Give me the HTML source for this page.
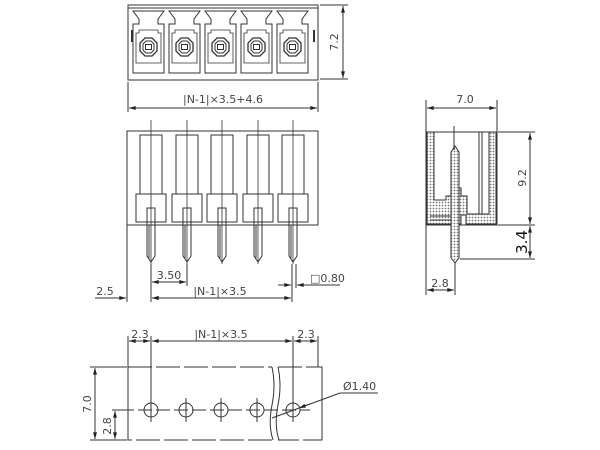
<!DOCTYPE html>
<html><head><meta charset="utf-8"><style>
html,body{margin:0;padding:0;background:#fff;width:600px;height:450px;overflow:hidden}
svg{display:block}
text{font-family:"DejaVu Sans","Liberation Sans",sans-serif;fill:#444;font-size:11px}
</style></head><body>
<svg width="600" height="450" viewBox="0 0 600 450" xmlns="http://www.w3.org/2000/svg">
<defs>
<marker id="a" viewBox="0 0 10 6" refX="10" refY="3" markerWidth="8" markerHeight="4" orient="auto-start-reverse"><path d="M0,0L10,3L0,6z" fill="#222"/></marker>
<pattern id="h" width="3" height="3" patternUnits="userSpaceOnUse"><rect width="3" height="3" fill="#fff"/><circle cx="1.5" cy="1.5" r="0.9" fill="#777"/></pattern>
<g id="cell">
<path d="M2,11H33L27,19V24H33V73H2V24H8V19Z" fill="none" stroke="#333" stroke-width="1"/>
<path d="M8,30H27V33H30V63H5V33H8Z" fill="none" stroke="#333" stroke-width="0.8"/>
<polygon points="14,38 21,38 26,43 26,51 21,56 14,56 9,51 9,43" fill="none" stroke="#333" stroke-width="1.3"/>
<polygon points="15,41 20,41 23,44 23,50 20,53 15,53 12,50 12,44" fill="none" stroke="#333"/>
<rect x="14.5" y="44.5" width="6" height="5" fill="none" stroke="#333"/>
</g>
</defs>
<g stroke="#333" fill="none" stroke-width="1">
<!-- TOP VIEW -->
<rect x="128" y="5" width="190" height="75"/>
<line x1="128" y1="8" x2="318" y2="8"/>
<line x1="132" y1="30" x2="132" y2="42" stroke-width="2"/>
<line x1="314" y1="30" x2="314" y2="42" stroke-width="2"/>
<use href="#cell" x="131" y="0"/><use href="#cell" x="167" y="0"/><use href="#cell" x="203" y="0"/><use href="#cell" x="239" y="0"/><use href="#cell" x="275" y="0"/>
<line x1="320" y1="5" x2="348" y2="5"/><line x1="320" y1="79" x2="348" y2="79"/>
<line x1="343" y1="6" x2="343" y2="78" marker-start="url(#a)" marker-end="url(#a)"/>
<line x1="128" y1="82" x2="128" y2="112"/><line x1="318" y1="82" x2="318" y2="112"/>
<line x1="129" y1="108" x2="317" y2="108" marker-start="url(#a)" marker-end="url(#a)"/>
<!-- FRONT VIEW -->
<rect x="127" y="131" width="191" height="94"/>
<g id="pin">
<rect x="140" y="135" width="22" height="59"/>
<rect x="136" y="194" width="30" height="28"/>
<path d="M147,225V208H155V225M147,222V256L151,262L155,256V222"/>
<line x1="149" y1="225" x2="149" y2="258"/>
<line x1="151" y1="120" x2="151" y2="264" stroke-width="0.8"/>
</g>
<use href="#pin" x="36"/><use href="#pin" x="71"/><use href="#pin" x="107"/><use href="#pin" x="142"/>
<line x1="127" y1="225" x2="127" y2="302"/>
<line x1="151" y1="264" x2="151" y2="302"/>
<line x1="187" y1="264" x2="187" y2="286"/>
<line x1="292" y1="264" x2="292" y2="302"/>
<line x1="296" y1="264" x2="296" y2="288"/>
<line x1="152" y1="282" x2="186" y2="282" marker-start="url(#a)" marker-end="url(#a)"/>
<line x1="278" y1="285" x2="291" y2="285" marker-end="url(#a)"/>
<line x1="310" y1="285" x2="297" y2="285" marker-end="url(#a)"/><line x1="310" y1="285" x2="340" y2="285"/>
<line x1="95" y1="298" x2="126" y2="298"/>
<line x1="112" y1="298" x2="126" y2="298" marker-end="url(#a)"/>
<line x1="165" y1="298" x2="152" y2="298" marker-end="url(#a)"/>
<line x1="152" y1="298" x2="291" y2="298" marker-start="url(#a)" marker-end="url(#a)"/>
<!-- SIDE VIEW -->
<line x1="426" y1="100" x2="426" y2="132"/><line x1="497" y1="100" x2="497" y2="132"/>
<line x1="427" y1="108" x2="496" y2="108" marker-start="url(#a)" marker-end="url(#a)"/>
<path d="M426,132H497V225H426Z"/>
<path d="M427,132H434V200H446V196H453V188H461V196H467V214H489V132H496V224H466V215H461V224H427Z" fill="url(#h)"/>
<line x1="479" y1="132" x2="479" y2="214"/><line x1="482" y1="132" x2="482" y2="214"/>
<line x1="430" y1="216" x2="452" y2="216"/><line x1="430" y1="220" x2="452" y2="220"/>
<path d="M451,152L455,146L459,152V258L455,263L451,258Z" fill="url(#h)"/>
<line x1="454" y1="126" x2="454" y2="150"/>
<line x1="498" y1="132" x2="535" y2="132"/><line x1="498" y1="225" x2="535" y2="225"/><line x1="460" y1="259" x2="535" y2="259"/>
<line x1="530" y1="133" x2="530" y2="224" marker-start="url(#a)" marker-end="url(#a)"/>
<line x1="530" y1="226" x2="530" y2="258" marker-start="url(#a)" marker-end="url(#a)"/>
<line x1="426" y1="225" x2="426" y2="295"/><line x1="455" y1="263" x2="455" y2="295"/>
<line x1="427" y1="290" x2="454" y2="290" marker-start="url(#a)" marker-end="url(#a)"/>
<!-- BOTTOM VIEW -->
<path d="M128,367H272M278,367H322V440H278M272,440H128V367" stroke-dasharray="24,4"/>
<line x1="128" y1="367" x2="128" y2="440"/><line x1="322" y1="367" x2="322" y2="440"/>
<path d="M272,367Q276,385 272,405T273,440"/><path d="M278,367Q282,385 278,405T279,440"/>
<line x1="120" y1="410" x2="310" y2="410" stroke-dasharray="14,4"/>
<g id="hole"><circle cx="151" cy="410" r="7"/><line x1="151" y1="398" x2="151" y2="422"/></g>
<use href="#hole" x="35"/><use href="#hole" x="70"/><use href="#hole" x="106"/><use href="#hole" x="142"/>
<line x1="151" y1="336" x2="151" y2="398"/><line x1="293" y1="336" x2="293" y2="398"/>
<line x1="128" y1="336" x2="128" y2="367"/><line x1="318" y1="336" x2="318" y2="367"/>
<line x1="129" y1="341" x2="150" y2="341" marker-start="url(#a)" marker-end="url(#a)"/>
<line x1="152" y1="341" x2="292" y2="341" marker-start="url(#a)" marker-end="url(#a)"/>
<line x1="294" y1="341" x2="317" y2="341" marker-start="url(#a)" marker-end="url(#a)"/>
<line x1="90" y1="367" x2="127" y2="367"/><line x1="90" y1="440" x2="127" y2="440"/>
<line x1="95" y1="368" x2="95" y2="439" marker-start="url(#a)" marker-end="url(#a)"/>
<line x1="112" y1="410" x2="130" y2="410"/>
<line x1="115" y1="411" x2="115" y2="439" marker-start="url(#a)" marker-end="url(#a)"/>
<line x1="340" y1="393" x2="272" y2="418"/>
<line x1="310" y1="404" x2="299" y2="408" marker-end="url(#a)"/>
<line x1="340" y1="393" x2="378" y2="393"/>
</g>
<text x="223" y="103" text-anchor="middle">|N-1|×3.5+4.6</text>
<text transform="translate(338,42) rotate(-90)" text-anchor="middle">7.2</text>
<text x="169" y="279" text-anchor="middle">3.50</text>
<text x="310" y="282">□0.80</text>
<text x="105" y="295" text-anchor="middle">2.5</text>
<text x="220" y="295" text-anchor="middle">|N-1|×3.5</text>
<text x="465" y="103" text-anchor="middle">7.0</text>
<text transform="translate(526,178) rotate(-90)" text-anchor="middle">9.2</text>
<text transform="translate(527,242) rotate(-90)" text-anchor="middle" style="font-size:15px;fill:#111">3.4</text>
<text x="440" y="287" text-anchor="middle">2.8</text>
<text x="140" y="338" text-anchor="middle">2.3</text>
<text x="221" y="338" text-anchor="middle">|N-1|×3.5</text>
<text x="306" y="338" text-anchor="middle">2.3</text>
<text transform="translate(91,404) rotate(-90)" text-anchor="middle">7.0</text>
<text transform="translate(111,426) rotate(-90)" text-anchor="middle">2.8</text>
<text x="343" y="390">Ø1.40</text>
</svg>
</body></html>
